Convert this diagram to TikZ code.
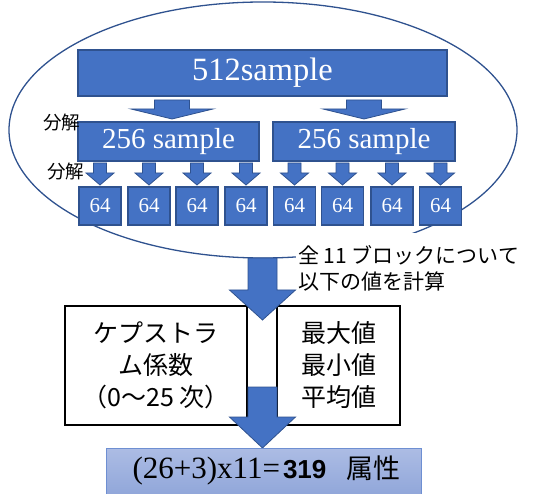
\documentclass[tikz,border=0pt]{standalone}
\usepackage{fontspec}
\setmainfont{Liberation Serif}
\newfontfamily\jp{Noto Sans CJK JP}
\newfontfamily\sansf{Liberation Sans}
\definecolor{bfill}{RGB}{68,114,196}
\definecolor{bline}{RGB}{47,82,143}
\definecolor{gtop}{RGB}{172,188,228}
\definecolor{gbot}{RGB}{140,163,216}
\definecolor{gline}{RGB}{110,143,210}
\tikzset{
  bluebox/.style={draw=bline, line width=1.2pt, fill=bfill, text=white, inner sep=0pt},
  arrowsty/.style={draw=bline, line width=0.8pt, fill=bfill},
  whitebox/.style={draw=black, line width=1.3pt, fill=white, inner sep=0pt, align=center,
     font=\jp\fontsize{25}{32}\selectfont},
  lab/.style={font=\jp\fontsize{18.5}{20}\selectfont, inner sep=0pt},
}
\newcommand{\barrow}[6]{\filldraw[arrowsty] (#1-#5,#2) -- (#1+#5,#2) -- (#1+#5,#3) -- (#1+#6,#3) -- (#1,#4) -- (#1-#6,#3) -- (#1-#5,#3) -- cycle;}
\begin{document}
\begin{tikzpicture}[x=1pt,y=-1pt]
\useasboundingbox (0,0) rectangle (533,494);
% ellipse
\draw[bline, line width=1.3pt] (263,130) ellipse [x radius=254, y radius=128];
% top blocks
\node[bluebox, minimum width=369pt, minimum height=46pt, font=\fontsize{32.5}{36}\selectfont] (n512) at (262.5,73) {512sample};
\barrow{172}{100}{109}{119}{17.5}{41}
\barrow{364}{100}{109}{119}{17.5}{41}
\node[bluebox, minimum width=181pt, minimum height=39pt, font=\fontsize{29}{32}\selectfont] (na) at (168.5,141.5) {256 sample};
\node[bluebox, minimum width=182pt, minimum height=39pt, font=\fontsize{29}{32}\selectfont] (nb) at (364,141.5) {256 sample};
\node[lab] (d1) at (61.5,123) {分解};
\node[lab] (d2) at (65.5,172) {分解};
\foreach \cx [count=\i] in {100,149,197,246,294.5,342.5,392,440.5}{
  \barrow{\cx}{163}{173}{185}{6.5}{14}
  \node[bluebox, minimum width=42pt, minimum height=38pt, font=\fontsize{21}{24}\selectfont] (s\i) at (\cx,206) {64};
}
% white area for label
\fill[white] (296,233) rectangle (533,296);
\node[font=\jp\fontsize{21}{24}\selectfont, anchor=west, inner sep=0pt] (t1) at (298,255) {全 11 ブロックについて};
\node[font=\jp\fontsize{21}{24}\selectfont, anchor=west, inner sep=0pt] (t2) at (298,282) {以下の値を計算};
% lower boxes
\node[whitebox, minimum width=182pt, minimum height=119pt] (cep) at (156,365.5) {ケプストラ\\ム係数\\（0～25 次）};
\node[whitebox, minimum width=123pt, minimum height=119pt] (stat) at (338.5,365.5) {最大値\\最小値\\平均値};
\barrow{262.5}{258}{290}{320}{14.5}{33}
\barrow{262.5}{387}{417}{448}{14.5}{33}
% bottom box
\node[draw=gline, line width=1pt, top color=gtop, bottom color=gbot, minimum width=315pt, minimum height=54pt, anchor=north, inner sep=0pt] (res) at (263.5,448) {};
\node[inner sep=0pt, anchor=center] (rest) at (266.5,470) {\fontsize{31}{34}\selectfont (26+3)x11=\hspace{3pt}\sansf\bfseries\fontsize{26}{30}\selectfont 319\hspace{20pt}\jp\mdseries\fontsize{27}{30}\selectfont 属性};
\end{tikzpicture}
\end{document}
